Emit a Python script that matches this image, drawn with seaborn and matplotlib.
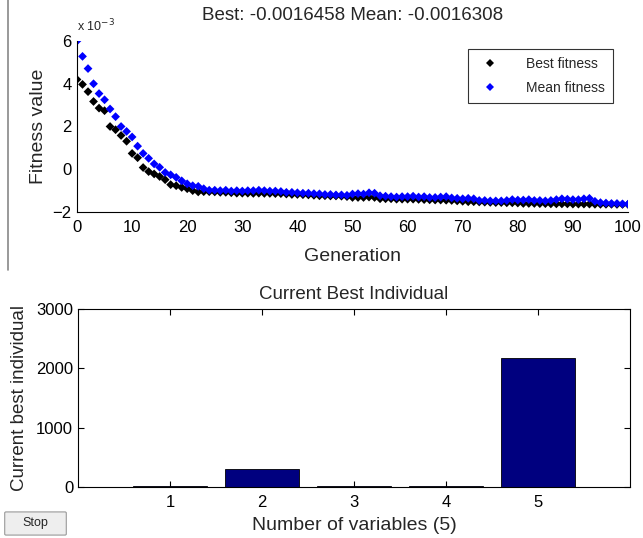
import numpy as np
import pandas as pd
import matplotlib
matplotlib.use("Agg")
import matplotlib.pyplot as plt
import seaborn as sns
from matplotlib.patches import FancyBboxPatch

# ---- data ----
generations = list(range(101))
best_fitness = [4.20, 3.97, 3.63, 3.17, 2.86, 2.74, 2.00, 1.85, 1.58, 1.31,
                0.74, 0.54, 0.08, -0.11, -0.22, -0.34, -0.49, -0.72, -0.77, -0.85,
                -0.91, -1.00, -1.06, -1.05, -1.05, -1.06, -1.08, -1.08, -1.10, -1.12,
                -1.12, -1.12, -1.13, -1.12, -1.13, -1.13, -1.14, -1.14, -1.16, -1.18,
                -1.18, -1.19, -1.20, -1.22, -1.24, -1.24, -1.25, -1.25, -1.26, -1.28,
                -1.32, -1.32, -1.32, -1.30, -1.32, -1.38, -1.38, -1.38, -1.40, -1.40,
                -1.40, -1.40, -1.41, -1.42, -1.43, -1.44, -1.44, -1.45, -1.46, -1.48,
                -1.50, -1.52, -1.52, -1.53, -1.54, -1.55, -1.56, -1.56, -1.57, -1.57,
                -1.58, -1.60, -1.60, -1.60, -1.61, -1.61, -1.62, -1.62, -1.62, -1.62,
                -1.63, -1.63, -1.63, -1.63, -1.64, -1.64, -1.64, -1.64, -1.645, -1.6458,
                -1.6458]
mean_fitness = [6.00, 5.28, 4.71, 4.00, 3.54, 3.25, 2.82, 2.46, 2.00, 1.77,
                1.51, 1.08, 0.74, 0.51, 0.25, 0.09, -0.15, -0.26, -0.38, -0.54,
                -0.68, -0.77, -0.80, -0.91, -0.98, -0.98, -1.00, -0.98, -1.02, -1.00,
                -1.02, -1.00, -1.00, -0.98, -1.00, -1.02, -1.02, -1.04, -1.08, -1.08,
                -1.10, -1.12, -1.12, -1.14, -1.15, -1.18, -1.18, -1.20, -1.20, -1.22,
                -1.16, -1.14, -1.16, -1.10, -1.12, -1.24, -1.26, -1.28, -1.30, -1.28,
                -1.28, -1.26, -1.30, -1.28, -1.32, -1.32, -1.30, -1.28, -1.34, -1.36,
                -1.38, -1.36, -1.38, -1.46, -1.46, -1.48, -1.48, -1.48, -1.46, -1.42,
                -1.44, -1.44, -1.42, -1.46, -1.46, -1.48, -1.46, -1.42, -1.38, -1.40,
                -1.42, -1.42, -1.38, -1.36, -1.50, -1.56, -1.58, -1.60, -1.60, -1.62,
                -1.6308]
variables = [1, 2, 3, 4, 5]
best_individual = [20, 310, 15, 15, 2180]

title_top = "Best: -0.0016458 Mean: -0.0016308"

sns.set_style("white")
plt.rcParams['font.family'] = ['Liberation Sans', 'DejaVu Sans']
plt.rcParams['xtick.direction'] = 'in'
plt.rcParams['ytick.direction'] = 'in'

fig = plt.figure(figsize=(6.43, 5.38), dpi=100)
W, H = 643, 538

def ax_rect(l, t, r, b):
    return [l / W, 1 - b / H, (r - l) / W, (b - t) / H]

# ---- top axes ----
ax1 = fig.add_axes(ax_rect(77, 41, 628, 212))
df = pd.DataFrame({
    "Generation": generations * 2,
    "Fitness": best_fitness + mean_fitness,
    "Series": ["Best fitness"] * len(generations) + ["Mean fitness"] * len(generations),
})
sns.scatterplot(data=df, x="Generation", y="Fitness", hue="Series",
                palette={"Best fitness": "black", "Mean fitness": "#0000ff"},
                marker="D", s=20, linewidth=0, ax=ax1)
ax1.set_xlim(0, 100)
ax1.set_ylim(-2, 6)
ax1.set_xticks(range(0, 101, 10))
ax1.set_yticks([-2, 0, 2, 4, 6])
ax1.tick_params(labelsize=12, length=4, width=0.8, colors='black')
ax1.tick_params(axis='x', pad=6)
ax1.tick_params(axis='y', pad=4)
for s in ["top", "right"]:
    ax1.spines[s].set_visible(False)
for s in ["left", "bottom"]:
    ax1.spines[s].set_color("black")
    ax1.spines[s].set_linewidth(0.8)
ax1.set_xlabel("Generation", fontsize=14, labelpad=9)
ax1.set_ylabel("Fitness value", fontsize=14, labelpad=4)
ax1.set_title(title_top, fontsize=13.5, pad=15)
ax1.text(0.0, 1.04, r"x 10$^{-3}$", transform=ax1.transAxes, fontsize=9,
         ha="left", va="bottom")
leg = ax1.legend(loc="upper right", frameon=True, fontsize=10, fancybox=False,
                 borderpad=0.6, handletextpad=1.6, labelspacing=0.7,
                 bbox_to_anchor=(0.986, 0.995), markerscale=1.0, title=None)
leg.get_frame().set_edgecolor("black")
leg.get_frame().set_linewidth(0.8)

# ---- bottom axes ----
ax2 = fig.add_axes(ax_rect(78, 309, 630, 487))
sns.barplot(x=variables, y=best_individual, native_scale=True, width=0.8,
            color="#00007f", edgecolor="black", linewidth=0.6, saturation=1,
            ax=ax2)
ax2.set_xlim(0, 6)
ax2.set_ylim(0, 3000)
ax2.set_xticks(variables)
ax2.set_xticklabels([str(v) for v in variables])
ax2.set_yticks([0, 1000, 2000, 3000])
ax2.tick_params(labelsize=12, length=4, width=0.8, colors='black',
                top=True, right=True, bottom=True, left=True)
ax2.tick_params(axis='x', pad=6)
for s in ax2.spines.values():
    s.set_visible(True)
    s.set_color("black")
    s.set_linewidth(0.8)
ax2.set_xlabel("Number of variables (5)", fontsize=14, labelpad=5)
ax2.set_ylabel("Current best individual", fontsize=13.5, labelpad=6)
ax2.set_title("Current Best Individual", fontsize=13.5, pad=7)

# ---- window decorations ----
fig.add_artist(plt.Line2D([8 / W, 8 / W], [1 - 270 / H, 1.0], color="#888888",
                          linewidth=1.2))
btn = FancyBboxPatch((6 / W, 1 - 534 / H), 59 / W, 21 / H,
                     boxstyle="round,pad=0.002", transform=fig.transFigure,
                     facecolor="#eeeeee", edgecolor="#999999", linewidth=0.8)
fig.add_artist(btn)
fig.text(35 / W, 1 - 523 / H, "Stop", ha="center", va="center", fontsize=9)

fig.savefig("out.png", dpi=100, facecolor="white")
